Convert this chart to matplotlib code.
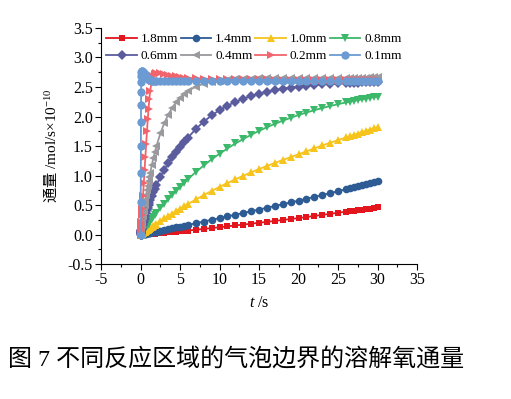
import matplotlib
matplotlib.use('Agg')
import matplotlib.pyplot as plt
from matplotlib.ticker import MultipleLocator, AutoMinorLocator

plt.rcParams['font.family'] = ['Liberation Serif', 'Noto Sans CJK SC']
plt.rcParams['mathtext.fontset'] = 'custom'
plt.rcParams['mathtext.rm'] = 'Liberation Serif'
plt.rcParams['mathtext.it'] = 'Liberation Serif:italic'
plt.rcParams['mathtext.sf'] = 'Noto Sans CJK SC'
plt.rcParams['axes.unicode_minus'] = False

# time points (s)
t = [0, 0.01, 0.02, 0.03, 0.04, 0.05, 0.06, 0.07, 0.08, 0.1,
     0.15, 0.2, 0.3, 0.4, 0.5, 0.6, 0.7, 0.8, 0.9, 1.0,
     1.1, 1.2, 1.4, 1.6, 1.8, 2.0, 2.5, 3.0, 3.5, 4.0,
     4.5, 5.0, 5.5, 6.0, 7, 8, 9, 10, 11, 12,
     13, 14, 15, 16, 17, 18, 19, 20, 21, 22,
     23, 24, 25, 26, 26.5, 27, 27.5, 28, 28.5, 29,
     29.5, 30]

# flux, mol/s x 1e-10
flux_18 = [0, 0, 0, 0, 0, 0.001, 0.001, 0.001, 0.001, 0.001,
           0.002, 0.002, 0.003, 0.004, 0.005, 0.006, 0.007, 0.008, 0.009, 0.010,
           0.011, 0.012, 0.014, 0.016, 0.018, 0.020, 0.025, 0.031, 0.037, 0.043,
           0.050, 0.056, 0.062, 0.069, 0.083, 0.097, 0.111, 0.125, 0.140, 0.155,
           0.170, 0.185, 0.200, 0.216, 0.232, 0.248, 0.264, 0.280, 0.298, 0.316,
           0.334, 0.352, 0.370, 0.388, 0.397, 0.406, 0.415, 0.424, 0.433, 0.442,
           0.451, 0.460]
flux_14 = [0, 0.0003, 0.0005, 0.0008, 0.001, 0.0013, 0.0015, 0.0018, 0.002, 0.0025,
           0.004, 0.005, 0.007, 0.010, 0.012, 0.015, 0.017, 0.020, 0.023, 0.025,
           0.028, 0.030, 0.036, 0.041, 0.047, 0.052, 0.066, 0.080, 0.094, 0.108,
           0.122, 0.136, 0.150, 0.164, 0.193, 0.222, 0.251, 0.280, 0.309, 0.338,
           0.367, 0.396, 0.425, 0.455, 0.485, 0.515, 0.545, 0.575, 0.607, 0.639,
           0.671, 0.703, 0.735, 0.768, 0.785, 0.802, 0.819, 0.836, 0.853, 0.870,
           0.887, 0.904]
flux_10 = [0, 0.001, 0.002, 0.003, 0.004, 0.005, 0.006, 0.007, 0.008, 0.010,
           0.015, 0.020, 0.029, 0.039, 0.048, 0.058, 0.067, 0.077, 0.086, 0.095,
           0.104, 0.113, 0.132, 0.150, 0.168, 0.186, 0.230, 0.273, 0.315, 0.357,
           0.398, 0.440, 0.479, 0.518, 0.595, 0.670, 0.740, 0.808, 0.874, 0.937,
           0.997, 1.055, 1.110, 1.163, 1.214, 1.264, 1.312, 1.360, 1.410, 1.460,
           1.510, 1.555, 1.600, 1.645, 1.667, 1.689, 1.710, 1.732, 1.754, 1.776,
           1.798, 1.820]
flux_08 = [0, 0.002, 0.004, 0.006, 0.008, 0.010, 0.012, 0.014, 0.016, 0.019,
           0.029, 0.039, 0.058, 0.077, 0.095, 0.114, 0.132, 0.151, 0.169, 0.187,
           0.205, 0.223, 0.258, 0.293, 0.327, 0.361, 0.443, 0.522, 0.598, 0.671,
           0.742, 0.810, 0.877, 0.941, 1.061, 1.171, 1.276, 1.370, 1.460, 1.543,
           1.619, 1.690, 1.758, 1.818, 1.876, 1.929, 1.978, 2.025, 2.067, 2.107,
           2.143, 2.177, 2.209, 2.238, 2.252, 2.266, 2.279, 2.291, 2.303, 2.314,
           2.326, 2.336]
flux_06 = [0, 0.01, 0.02, 0.028, 0.035, 0.043, 0.05, 0.055, 0.06, 0.07,
           0.095, 0.12, 0.165, 0.22, 0.27, 0.32, 0.365, 0.41, 0.455, 0.50,
           0.54, 0.58, 0.65, 0.72, 0.78, 0.84, 0.98, 1.10, 1.21, 1.31,
           1.40, 1.48, 1.56, 1.643, 1.791, 1.914, 2.020, 2.109, 2.184, 2.248,
           2.302, 2.348, 2.387, 2.419, 2.447, 2.471, 2.491, 2.507, 2.521, 2.534,
           2.544, 2.552, 2.560, 2.566, 2.569, 2.571, 2.574, 2.576, 2.578, 2.580,
           2.582, 2.583]
flux_04 = [0, 0.011, 0.022, 0.033, 0.044, 0.055, 0.065, 0.076, 0.087, 0.108,
           0.160, 0.212, 0.311, 0.407, 0.498, 0.586, 0.670, 0.751, 0.828, 0.903,
           0.975, 1.043, 1.171, 1.290, 1.398, 1.498, 1.715, 1.891, 2.033, 2.149,
           2.243, 2.320, 2.382, 2.432, 2.507, 2.555, 2.588, 2.609, 2.623, 2.632,
           2.638, 2.642, 2.645, 2.647, 2.649, 2.650, 2.651, 2.652, 2.653, 2.654,
           2.655, 2.656, 2.657, 2.658, 2.658, 2.659, 2.659, 2.660, 2.660, 2.661,
           2.661, 2.662]
flux_02 = [0, 0.02, 0.04, 0.065, 0.09, 0.11, 0.13, 0.155, 0.18, 0.22,
           0.33, 0.44, 0.66, 0.88, 1.10, 1.32, 1.54, 1.75, 1.95, 2.13,
           2.30, 2.43, 2.60, 2.68, 2.72, 2.73, 2.73, 2.72, 2.705, 2.69,
           2.68, 2.67, 2.66, 2.65, 2.645, 2.64, 2.636, 2.633, 2.631, 2.630,
           2.629, 2.628, 2.627, 2.627, 2.626, 2.626, 2.626, 2.625, 2.625, 2.625,
           2.625, 2.625, 2.625, 2.625, 2.625, 2.625, 2.625, 2.625, 2.625, 2.625,
           2.625, 2.625]
flux_01 = [0, 0.55, 1.05, 1.5, 1.9, 2.2, 2.42, 2.58, 2.68, 2.75,
           2.77, 2.77, 2.76, 2.74, 2.72, 2.70, 2.68, 2.66, 2.645, 2.635,
           2.625, 2.618, 2.608, 2.602, 2.600, 2.598, 2.597, 2.596, 2.596, 2.595,
           2.595, 2.595, 2.595, 2.595, 2.595, 2.595, 2.595, 2.595, 2.595, 2.595,
           2.595, 2.595, 2.595, 2.595, 2.595, 2.595, 2.595, 2.595, 2.595, 2.595,
           2.595, 2.595, 2.595, 2.595, 2.595, 2.595, 2.595, 2.595, 2.595, 2.595,
           2.595, 2.595]

labels = ['1.8mm', '1.4mm', '1.0mm', '0.8mm', '0.6mm', '0.4mm', '0.2mm', '0.1mm']
series = [flux_18, flux_14, flux_10, flux_08, flux_06, flux_04, flux_02, flux_01]
colors = ['#E3151D', '#2D5C94', '#F6C41C', '#3CB86B', '#5A5C9E', '#9A9A9E', '#F2646C', '#6B9BD2']
markers = ['s', 'o', '^', 'v', 'D', '<', '>', 'o']
msizes = [5, 5.5, 5.5, 5.5, 5, 5.5, 5.5, 6]

fig = plt.figure(figsize=(5.11, 3.99), dpi=100)
ax = fig.add_axes([0.198, 0.338, 0.618, 0.592])

handles = []
for y, lab, c, m, ms in zip(series, labels, colors, markers, msizes):
    h, = ax.plot(t, y, color=c, marker=m, markersize=ms, linewidth=1.3,
                 markeredgewidth=0, label=lab)
    handles.append(h)

ax.set_xlim(-5, 35)
ax.set_ylim(-0.5, 3.5)
ax.xaxis.set_major_locator(MultipleLocator(5))
ax.yaxis.set_major_locator(MultipleLocator(0.5))
ax.xaxis.set_minor_locator(AutoMinorLocator(2))
ax.yaxis.set_minor_locator(AutoMinorLocator(2))
ax.tick_params(which='major', direction='out', length=4, width=0.8, labelsize=11.5, pad=2)
ax.tick_params(which='minor', direction='out', length=2, width=0.8)
ax.spines['top'].set_visible(False)
ax.spines['right'].set_visible(False)

ax.set_xlabel(r'$t$ /s', fontsize=11.5, labelpad=5)
ax.set_ylabel(r'$\mathsf{通量}$ /mol/s×10$^{-10}$', fontsize=11, labelpad=6)

# legend fills column-first, so reorder to read row by row
order = [0, 4, 1, 5, 2, 6, 3, 7]
ax.legend([handles[i] for i in order], [labels[i] for i in order],
          loc='upper left', ncol=4, frameon=False, fontsize=9.5,
          handlelength=2.3, handletextpad=0.3, columnspacing=0.2,
          labelspacing=0.35, borderaxespad=0.0, bbox_to_anchor=(0.0, 1.0))

fig.text(0.015, 0.098, '图 7 不同反应区域的气泡边界的溶解氧通量', fontsize=17.3,
         va='center', ha='left')

fig.savefig('out.png', dpi=100)
